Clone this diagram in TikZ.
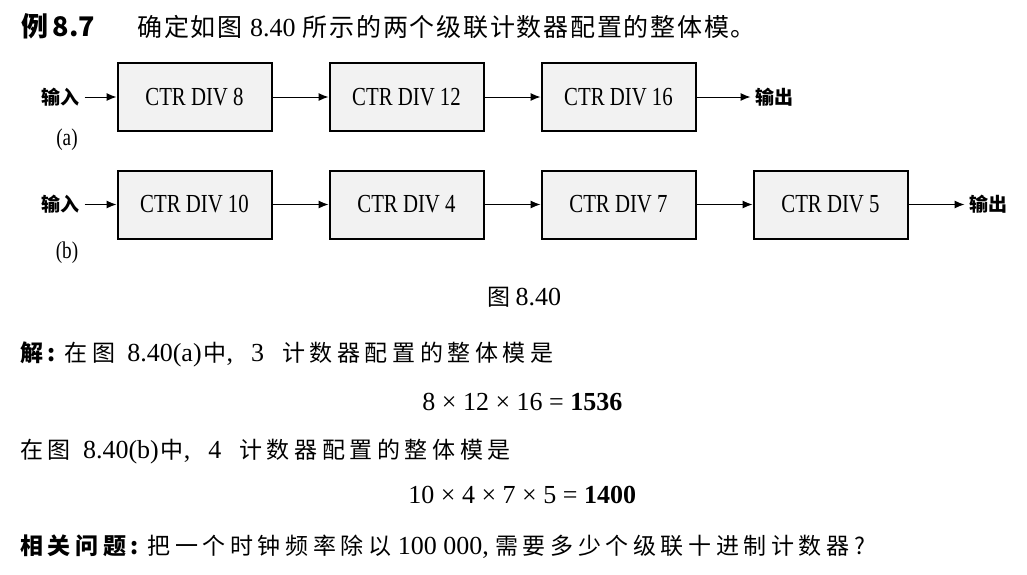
\documentclass[tikz,border=0pt]{standalone}
\usepackage{fontspec}
\setmainfont{Liberation Serif}
\newfontfamily\cjk[LetterSpace=20]{Noto Sans CJK SC}
\newfontfamily\cjkhead[LetterSpace=7]{Noto Sans CJK SC}
\newfontfamily\cjklabel{Noto Sans CJK SC}
\newfontfamily\ctrfont[FakeStretch=0.8]{Liberation Serif}
\usetikzlibrary{arrows.meta,positioning}
\usepackage{xcolor}

\newcommand{\zh}[1]{{\cjk\fontsize{11.5}{14}\selectfont #1}}
\newcommand{\zhb}[1]{{\cjk\bfseries\fontsize{11.5}{14}\selectfont #1}}

\begin{document}
\begin{tikzpicture}[x=0.5pt, y=-0.5pt]
    \tikzstyle{counter} = [shape=rectangle, fill=gray!10, draw=black, line width=1pt, minimum width=77pt, minimum height=34pt, inner sep=0pt, font=\ctrfont\fontsize{13}{15}\selectfont];
    \tikzstyle{port} = [inner sep=2.5pt, font=\cjklabel\bfseries\fontsize{9.5}{11}\selectfont];
    \tikzstyle{tag} = [inner sep=0pt, font=\ctrfont\fontsize{12}{14}\selectfont];
    \tikzstyle{textline} = [anchor=base west, inner sep=0pt, font=\fontsize{13}{15}\selectfont];

    \useasboundingbox (0,0) rectangle (1027,574);

    % heading
    \node[textline, font=\cjklabel\bfseries\fontsize{13.5}{16}\selectfont] (exno) at (21,36) {例\,8.7};
    \node[textline, font=\cjkhead\fontsize{12.5}{15}\selectfont] (exttl) at (137,36) {确定如图 {\rmfamily\fontsize{13}{15}\selectfont 8.40} 所示的两个级联计数器配置的整体模。};

    % (a)
    \node[counter] (A1) at (194.5,97) {CTR DIV 8};
    \node[counter, right=28pt of A1] (A2) {CTR DIV 12};
    \node[counter, right=28pt of A2] (A3) {CTR DIV 16};
    \node[port, left=16pt of A1] (inA) {输入};
    \node[port, right=27pt of A3] (outA) {输出};
    \node[tag] (tagA) at (67,140) {(a)};

    % (b)
    \node[counter] (B1) at (194.5,204.5) {CTR DIV 10};
    \node[counter, right=28pt of B1] (B2) {CTR DIV 4};
    \node[counter, right=28pt of B2] (B3) {CTR DIV 7};
    \node[counter, right=28pt of B3] (B4) {CTR DIV 5};
    \node[port, left=16pt of B1] (inB) {输入};
    \node[port, right=28pt of B4] (outB) {输出};
    \node[tag] (tagB) at (67,253) {(b)};

    \draw[-{Latex[length=5pt,width=4pt]}, line width=0.5pt]
        (inA) edge (A1)
        (A1) edge (A2)
        (A2) edge (A3)
        (A3) edge (outA)
        (inB) edge (B1)
        (B1) edge (B2)
        (B2) edge (B3)
        (B3) edge (B4)
        (B4) edge (outB)
    ;

    \node[textline, font=\cjklabel\fontsize{11.5}{14}\selectfont] (cap) at (487,305) {图 {\rmfamily\fontsize{13}{15}\selectfont 8.40}};

    % solution
    \node[textline] (solA) at (20,361) {\zhb{解:} \zh{在图}\hspace{6pt}8.40(a)\hspace{1pt}\zh{中},\hspace{9pt}3\hspace{9pt}\zh{计数器配置的整体模是}};
    \node[textline] (eqA) at (422,410) {8 \texttimes{} 12 \texttimes{} 16 = \textbf{1536}};
    \node[textline] (solB) at (20,458) {\zh{在图}\hspace{6pt}8.40(b)\hspace{1pt}\zh{中},\hspace{9pt}4\hspace{9pt}\zh{计数器配置的整体模是}};
    \node[textline] (eqB) at (408,503) {10 \texttimes{} 4 \texttimes{} 7 \texttimes{} 5 = \textbf{1400}};
    \node[textline] (rel) at (20,554) {\zhb{相关问题:} \zh{把一个时钟频率除以} 100 000, \zh{需要多少个级联十进制计数器?}};
\end{tikzpicture}
\end{document}
